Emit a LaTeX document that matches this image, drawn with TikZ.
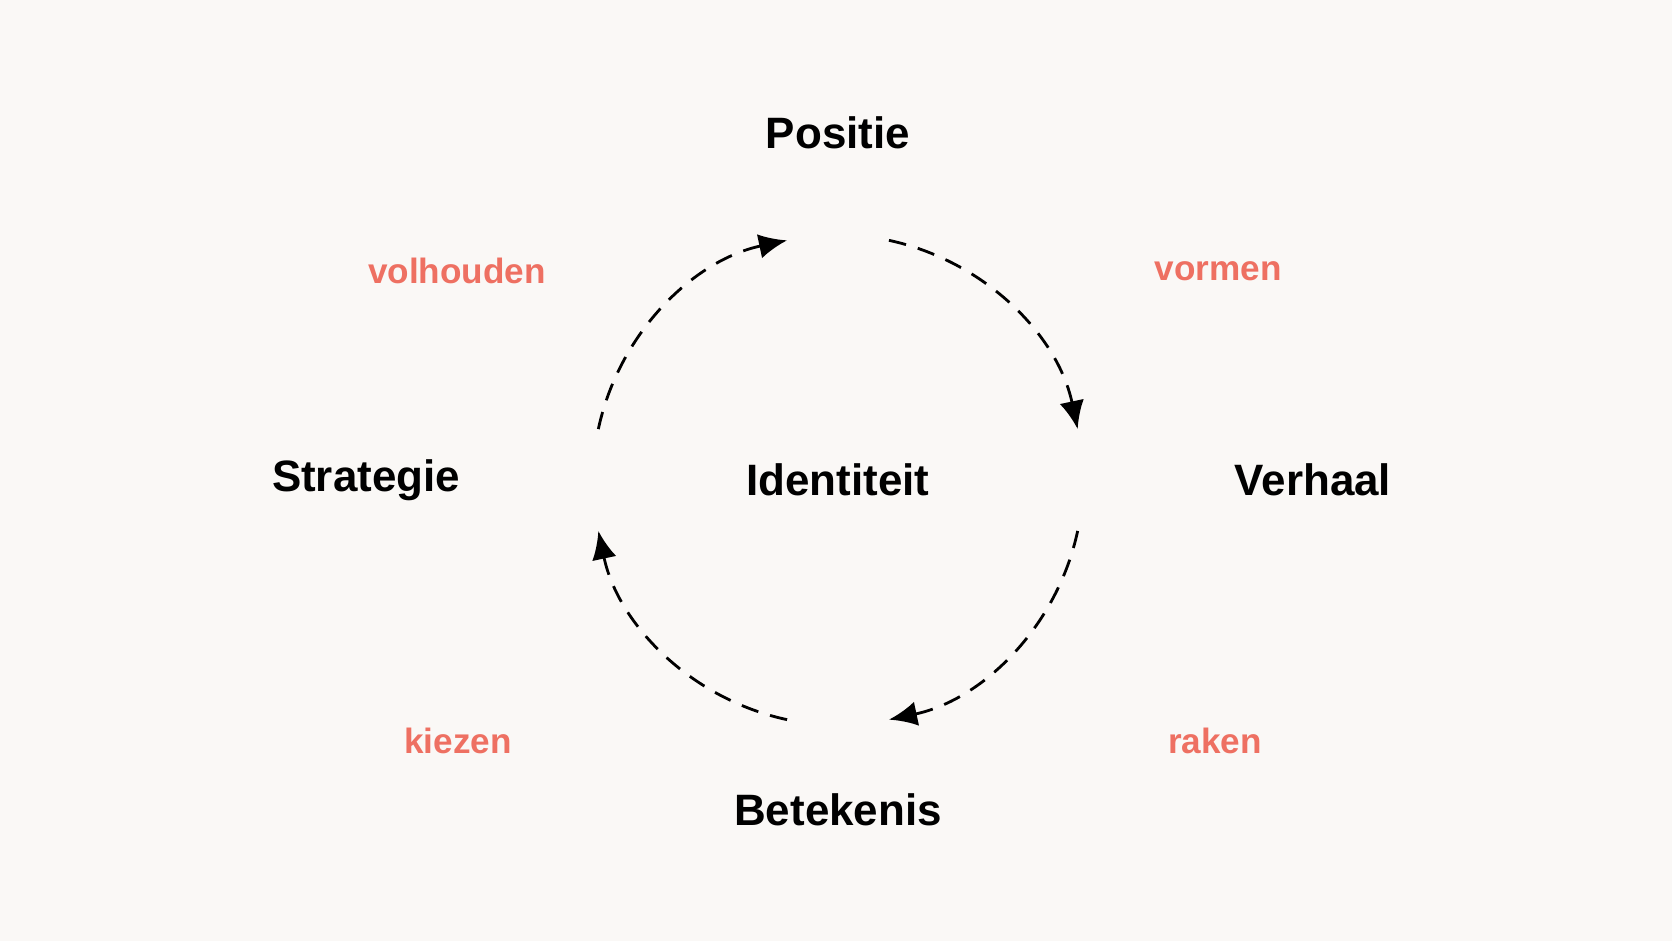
\documentclass[tikz,border=0pt]{standalone}
\usepackage{fontspec}
\setmainfont{Liberation Sans}
\usetikzlibrary{arrows.meta, calc}
\definecolor{bg}{RGB}{250,248,246}
\definecolor{accent}{RGB}{238,112,98}
\tikzset{
  term/.style={font=\bfseries\fontsize{12.5}{14}\selectfont, text=black},
  verb/.style={font=\bfseries\fontsize{10}{12}\selectfont, text=accent},
  flow/.style={thick, dashed, dash pattern=on 5pt off 3.5pt, -{Latex[length=8pt,width=7pt]}}
}
\begin{document}
\begin{tikzpicture}
	\fill [bg] (0,0) rectangle (16.72,9.41);
	\useasboundingbox (0,0) rectangle (16.72,9.41);

	\coordinate (mid) at (8.38, 4.61);
	\node [term] (ident) at (mid) {Identiteit};
	\node [term] (positie) at (8.38, 8.08) {Positie};
	\node [term] (verhaal) at (13.13, 4.61) {Verhaal};
	\node [term] (betekenis) at (8.38, 1.31) {Betekenis};
	\node [term] (strategie) at (3.66, 4.61) {Strategie};

	\node [verb] (volhouden) at (4.57, 6.70) {volhouden};
	\node [verb] (vormen) at (12.18, 6.70) {vormen};
	\node [verb] (kiezen) at (4.58, 2.00) {kiezen};
	\node [verb] (raken) at (12.15, 2.00) {raken};

	% cycle around the centre
	\draw [flow] ($(mid)+(78:2.45)$) arc (78:12:2.45);
	\draw [flow] ($(mid)+(-12:2.45)$) arc (-12:-78:2.45);
	\draw [flow] ($(mid)+(-102:2.45)$) arc (-102:-168:2.45);
	\draw [flow] ($(mid)+(168:2.45)$) arc (168:102:2.45);
\end{tikzpicture}
\end{document}
